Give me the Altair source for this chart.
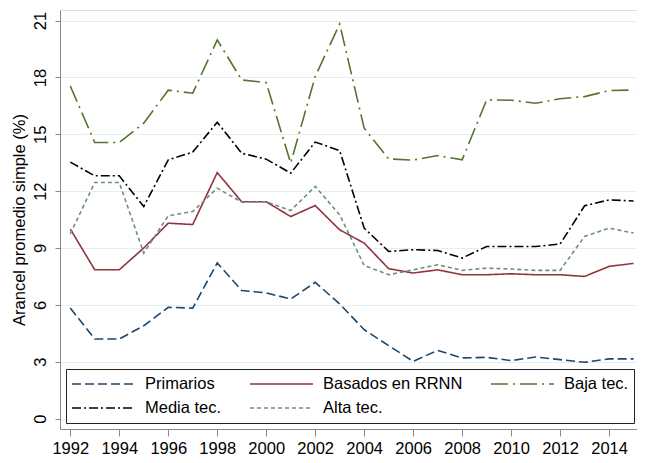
import altair as alt
import pandas as pd

years = list(range(1992, 2016))
series_names = ["Primarios", "Basados en RRNN", "Baja tec.", "Media tec.", "Alta tec."]
series_colors = ["#1a476f", "#90353b", "#55752f", "#000000", "#6e8e84"]
series_dashes = [[9, 4], [1, 0], [17, 5, 2, 5], [9, 3, 2, 3], [4, 3]]
# legend is filled column by column (2 rows x 3 columns)
legend_order = ["Primarios", "Media tec.", "Basados en RRNN", "Alta tec.", "Baja tec."]

primarios = [5.83, 4.20, 4.20, 4.90, 5.87, 5.83, 8.21, 6.76, 6.63, 6.31, 7.19, 6.05,
             4.69, 3.85, 3.02, 3.60, 3.20, 3.23, 3.06, 3.25, 3.11, 2.97, 3.15, 3.15]
basados = [10.00, 7.85, 7.85, 9.00, 10.31, 10.24, 12.98, 11.44, 11.44, 10.66, 11.24, 9.96,
           9.26, 7.91, 7.68, 7.85, 7.59, 7.59, 7.64, 7.59, 7.59, 7.50, 8.03, 8.19]
baja = [17.55, 14.57, 14.57, 15.59, 17.33, 17.17, 19.98, 17.87, 17.73, 13.48, 18.05, 20.82,
        15.32, 13.70, 13.64, 13.88, 13.65, 16.82, 16.80, 16.64, 16.88, 16.99, 17.31, 17.34]
media = [13.53, 12.81, 12.81, 11.19, 13.65, 14.06, 15.64, 14.00, 13.69, 12.95, 14.59, 14.14,
         10.05, 8.82, 8.91, 8.87, 8.47, 9.08, 9.08, 9.08, 9.21, 11.23, 11.54, 11.48]
alta = [9.75, 12.46, 12.46, 8.73, 10.70, 10.93, 12.16, 11.42, 11.44, 10.98, 12.25, 10.75,
        8.08, 7.59, 7.85, 8.12, 7.82, 7.94, 7.89, 7.82, 7.82, 9.61, 10.05, 9.79]

x_ticks = list(range(1992, 2015, 2))
y_ticks = [0, 3, 6, 9, 12, 15, 18, 21]

all_values = [primarios, basados, baja, media, alta]
rows = []
for name, vals in zip(series_names, all_values):
    for yr, v in zip(years, vals):
        rows.append({"year": yr, "value": v, "serie": name})
df = pd.DataFrame(rows)

color_map = dict(zip(series_names, series_colors))
dash_map = dict(zip(series_names, series_dashes))

FONT = "Liberation Sans"

legend = alt.Legend(
    title=None,
    orient="none",
    legendX=6,
    legendY=359,
    columns=3,
    columnPadding=27,
    rowPadding=4,
    clipHeight=20,
    padding=5,
    symbolType="stroke",
    symbolSize=3969,
    symbolStrokeWidth=1.6,
    labelOffset=9,
    labelFontSize=16.5,
    labelFont=FONT,
    labelColor="#000000",
    labelLimit=300,
    strokeColor="#222222",
    fillColor="#ffffff",
)

chart = alt.Chart(df).mark_line(strokeWidth=1.6).encode(
    x=alt.X("year:Q",
            scale=alt.Scale(domain=[1991.58, 2015.14], nice=False, zero=False),
            axis=alt.Axis(values=x_ticks, format="d", title=None, grid=False,
                          tickSize=7, labelPadding=4, labelFontSize=16.5,
                          labelFont=FONT, labelColor="#000000")),
    y=alt.Y("value:Q",
            scale=alt.Scale(domain=[-0.55, 21.56], nice=False, zero=False),
            axis=alt.Axis(values=y_ticks, title="Arancel promedio simple (%)",
                          grid=True, gridColor="#e6eef0", gridWidth=1.2,
                          tickSize=5, labelAngle=270, labelPadding=7,
                          labelFontSize=16.5, labelFont=FONT, labelColor="#000000",
                          titleFont=FONT, titleFontSize=16.5, titleFontWeight="normal",
                          titleColor="#000000", titlePadding=5)),
    color=alt.Color("serie:N",
                    scale=alt.Scale(domain=legend_order,
                                    range=[color_map[n] for n in legend_order]),
                    legend=legend),
    strokeDash=alt.StrokeDash("serie:N",
                              scale=alt.Scale(domain=legend_order,
                                              range=[dash_map[n] for n in legend_order]),
                              legend=legend),
    order=alt.Order("year:Q"),
).properties(
    width=577,
    height=419,
    autosize=alt.AutoSizeParams(type="none"),
    padding={"left": 52, "top": 2, "right": 0, "bottom": 30},
).configure_view(
    stroke=None
).configure_axis(
    domainColor="#000000",
    domainWidth=1.2,
    tickColor="#000000",
    tickWidth=1.2,
).configure_legend(
    strokeWidth=1.4
).configure(background="#ffffff")

chart.save("out.html", embed_options={"renderer": "svg", "actions": False})
